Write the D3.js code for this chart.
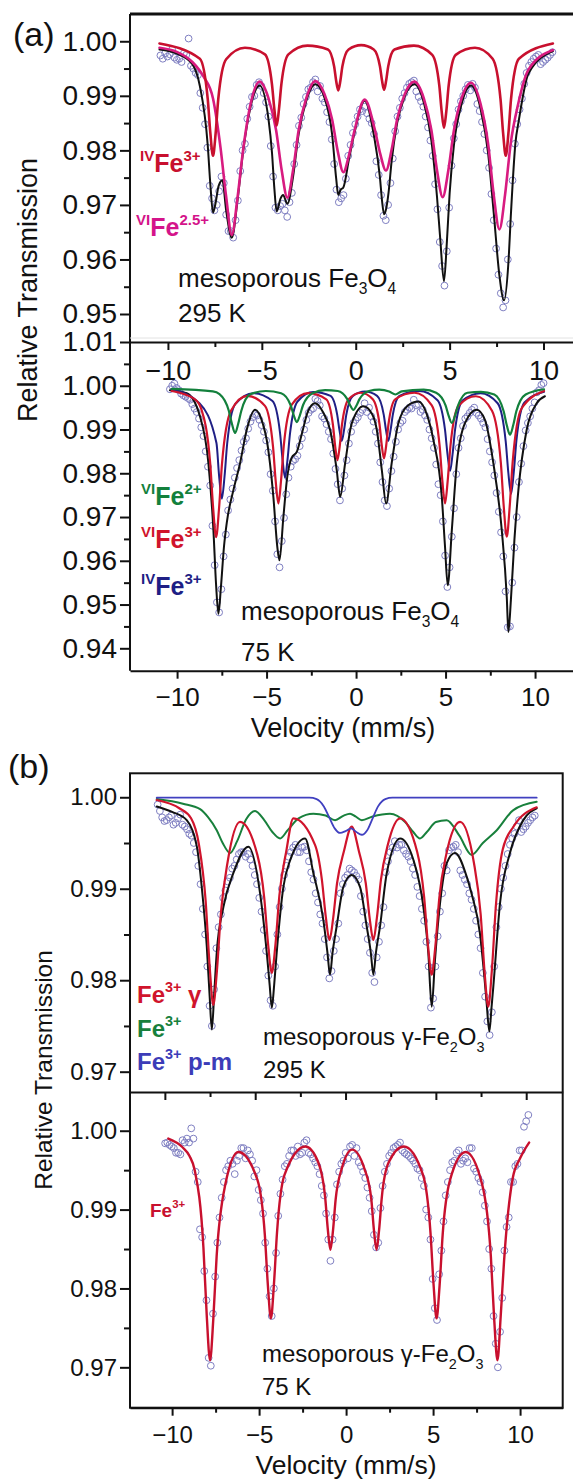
<!DOCTYPE html>
<html>
<head>
<meta charset="utf-8">
<script src="https://cdn.jsdelivr.net/npm/d3@7"></script>
<style>
body { margin: 0; background: #fff; }
svg { display: block; font-family: "Liberation Sans", Arial, Helvetica, sans-serif; }
.axis path, .axis line { stroke: #111; stroke-width: 2; }
.axis text { fill: #111; }
.fit { fill: none; stroke-linejoin: round; stroke-linecap: round; }
.pt { fill: none; stroke: #7f7fc2; stroke-width: 1; }
</style>
</head>
<body>
<div class="container"></div>
<script>
// velocity channels (mm/s) shared by the four spectra: even and odd channels
var velocity = [-10.4,-10.15,-9.9,-9.65,-9.4,-9.15,-8.9,-8.65,-8.4,-8.15,-7.9,-7.65,-7.4,-7.15,-6.9,-6.65,-6.4,-6.15,-5.9,-5.65,-5.4,-5.15,-4.9,-4.65,-4.4,-4.15,-3.9,-3.65,-3.4,-3.15,-2.9,-2.65,-2.4,-2.15,-1.9,-1.65,-1.4,-1.15,-0.9,-0.65,-0.4,-0.15,0.1,0.35,0.6,0.85,1.1,1.35,1.6,1.85,2.1,2.35,2.6,2.85,3.1,3.35,3.6,3.85,4.1,4.35,4.6,4.85,5.1,5.35,5.6,5.85,6.1,6.35,6.6,6.85,7.1,7.35,7.6,7.85,8.1,8.35,8.6,8.85,9.1,9.35,9.6,9.85,10.1,10.35];
var velocityOdd = [-10.275,-10.025,-9.775,-9.525,-9.275,-9.025,-8.775,-8.525,-8.275,-8.025,-7.775,-7.525,-7.275,-7.025,-6.775,-6.525,-6.275,-6.025,-5.775,-5.525,-5.275,-5.025,-4.775,-4.525,-4.275,-4.025,-3.775,-3.525,-3.275,-3.025,-2.775,-2.525,-2.275,-2.025,-1.775,-1.525,-1.275,-1.025,-0.775,-0.525,-0.275,-0.025,0.225,0.475,0.725,0.975,1.225,1.475,1.725,1.975,2.225,2.475,2.725,2.975,3.225,3.475,3.725,3.975,4.225,4.475,4.725,4.975,5.225,5.475,5.725,5.975,6.225,6.475,6.725,6.975,7.225,7.475,7.725,7.975,8.225,8.475,8.725,8.975,9.225,9.475,9.725,9.975,10.225,10.475];

// measured transmission, Fe3O4 295 K
var a1Counts = [0.9974,0.9978,0.9976,0.9970,0.9968,0.9978,1.0005,0.9950,0.9938,0.9878,
0.9805,0.9712,0.9700,0.9752,0.9682,0.9652,0.9672,0.9762,0.9812,0.9880,
0.9900,0.9925,0.9905,0.9862,0.9752,0.9690,0.9702,0.9678,0.9722,0.9810,
0.9860,0.9898,0.9915,0.9930,0.9918,0.9888,0.9852,0.9775,0.9705,0.9718,
0.9790,0.9832,0.9862,0.9872,0.9868,0.9850,0.9780,0.9718,0.9672,0.9740,
0.9835,0.9878,0.9905,0.9922,0.9928,0.9898,0.9880,0.9842,0.9790,0.9692,
0.9588,0.9615,0.9772,0.9848,0.9890,0.9912,0.9910,0.9915,0.9872,0.9830,
0.9768,0.9672,0.9572,0.9512,0.9600,0.9745,0.9848,0.9895,0.9942,0.9962,
0.9972,0.9958,0.9966,0.9975];
var a1CountsOdd = [0.9968,0.9972,0.9985,0.9966,0.9962,0.9975,0.9955,0.9942,0.9905,0.9848,
0.9735,0.9690,0.9725,0.9740,0.9652,0.9640,0.9708,0.9800,0.9858,0.9898,
0.9920,0.9918,0.9888,0.9808,0.9695,0.9698,0.9690,0.9705,0.9775,0.9845,
0.9885,0.9912,0.9925,0.9908,0.9895,0.9870,0.9820,0.9728,0.9712,0.9748,
0.9810,0.9848,0.9875,0.9880,0.9858,0.9830,0.9755,0.9680,0.9700,0.9785,
0.9862,0.9895,0.9915,0.9925,0.9908,0.9890,0.9862,0.9818,0.9738,0.9632,
0.9552,0.9695,0.9822,0.9875,0.9900,0.9920,0.9922,0.9885,0.9852,0.9800,
0.9720,0.9620,0.9538,0.9525,0.9665,0.9812,0.9875,0.9922,0.9955,0.9968,
0.9975,0.9962,0.9970,0.9980];

// measured transmission, Fe3O4 75 K
var a2Counts = [0.9992,1.0005,0.9990,0.9978,0.9972,0.9958,0.9940,0.9905,0.9850,0.9772,
0.9590,0.9482,0.9610,0.9715,0.9765,0.9812,0.9852,0.9880,0.9918,0.9935,
0.9922,0.9895,0.9848,0.9760,0.9615,0.9645,0.9752,0.9815,0.9832,0.9862,
0.9900,0.9938,0.9948,0.9965,0.9930,0.9912,0.9878,0.9810,0.9738,0.9795,
0.9868,0.9915,0.9928,0.9945,0.9940,0.9930,0.9895,0.9825,0.9738,0.9765,
0.9838,0.9900,0.9920,0.9945,0.9948,0.9955,0.9940,0.9932,0.9900,0.9858,
0.9775,0.9690,0.9540,0.9655,0.9798,0.9880,0.9925,0.9938,0.9950,0.9932,
0.9915,0.9878,0.9825,0.9755,0.9665,0.9530,0.9450,0.9630,0.9780,0.9862,
0.9915,0.9948,0.9985,1.0002];
var a2CountsOdd = [1.0000,0.9995,0.9982,0.9975,0.9968,0.9948,0.9925,0.9885,0.9815,0.9680,
0.9505,0.9535,0.9660,0.9740,0.9790,0.9830,0.9872,0.9902,0.9928,0.9932,
0.9910,0.9875,0.9798,0.9690,0.9585,0.9698,0.9790,0.9828,0.9840,0.9880,
0.9922,0.9945,0.9970,0.9955,0.9925,0.9895,0.9845,0.9775,0.9765,0.9830,
0.9895,0.9922,0.9938,0.9960,0.9950,0.9918,0.9868,0.9780,0.9725,0.9805,
0.9872,0.9915,0.9940,0.9950,0.9968,0.9958,0.9945,0.9922,0.9880,0.9820,
0.9750,0.9612,0.9585,0.9720,0.9858,0.9908,0.9930,0.9945,0.9938,0.9925,
0.9905,0.9850,0.9795,0.9712,0.9610,0.9448,0.9550,0.9700,0.9822,0.9898,
0.9930,0.9962,0.9990,1.0006];

// measured transmission, gamma-Fe2O3 295 K
var b1Counts = [0.9992,0.9978,0.9975,0.9980,0.9972,0.9981,0.9968,0.9960,0.9950,0.9925,
0.9878,0.9815,0.9750,0.9835,0.9872,0.9898,0.9912,0.9925,0.9938,0.9940,
0.9938,0.9925,0.9905,0.9875,0.9832,0.9778,0.9815,0.9880,0.9915,0.9935,
0.9945,0.9940,0.9945,0.9942,0.9918,0.9895,0.9872,0.9845,0.9802,0.9832,
0.9862,0.9905,0.9915,0.9920,0.9914,0.9892,0.9860,0.9830,0.9798,0.9842,
0.9880,0.9930,0.9945,0.9945,0.9948,0.9938,0.9930,0.9915,0.9892,0.9865,
0.9815,0.9780,0.9848,0.9895,0.9920,0.9945,0.9948,0.9920,0.9910,0.9895,
0.9878,0.9850,0.9808,0.9755,0.9765,0.9858,0.9900,0.9925,0.9948,0.9960,
0.9975,0.9965,0.9972,0.9978];
var b1CountsOdd = [0.9985,0.9974,0.9978,0.9970,0.9977,0.9970,0.9965,0.9958,0.9940,0.9905,
0.9850,0.9772,0.9790,0.9858,0.9890,0.9908,0.9922,0.9932,0.9940,0.9935,
0.9932,0.9915,0.9890,0.9855,0.9805,0.9772,0.9850,0.9900,0.9925,0.9940,
0.9948,0.9940,0.9946,0.9930,0.9910,0.9885,0.9862,0.9825,0.9810,0.9845,
0.9895,0.9912,0.9922,0.9918,0.9910,0.9875,0.9845,0.9808,0.9825,0.9860,
0.9918,0.9940,0.9952,0.9948,0.9942,0.9935,0.9922,0.9902,0.9878,0.9842,
0.9770,0.9815,0.9875,0.9925,0.9942,0.9946,0.9940,0.9915,0.9905,0.9888,
0.9865,0.9835,0.9782,0.9740,0.9815,0.9880,0.9912,0.9938,0.9955,0.9968,
0.9962,0.9968,0.9975,0.9980];

// measured transmission, gamma-Fe2O3 75 K
var b2Counts = [0.9984,0.9982,0.9978,0.9972,0.9988,0.9990,1.0003,0.9948,0.9875,0.9822,
0.9712,0.9768,0.9858,0.9915,0.9950,0.9962,0.9945,0.9968,0.9978,0.9975,
0.9962,0.9950,0.9912,0.9858,0.9790,0.9800,0.9892,0.9938,0.9958,0.9975,
0.9968,0.9970,0.9985,0.9972,0.9965,0.9955,0.9930,0.9895,0.9835,0.9890,
0.9948,0.9962,0.9965,0.9982,0.9978,0.9955,0.9940,0.9915,0.9868,0.9858,
0.9930,0.9958,0.9972,0.9980,0.9985,0.9972,0.9968,0.9962,0.9952,0.9940,
0.9900,0.9862,0.9775,0.9818,0.9885,0.9935,0.9960,0.9972,0.9958,0.9965,
0.9978,0.9952,0.9940,0.9922,0.9885,0.9825,0.9730,0.9745,0.9848,0.9890,
0.9935,0.9958,0.9975,1.0012];
var b2CountsOdd = [0.9985,0.9980,0.9972,0.9970,0.9985,0.9985,0.9990,0.9935,0.9865,0.9785,
0.9702,0.9815,0.9890,0.9935,0.9955,0.9958,0.9962,0.9978,0.9965,0.9970,
0.9942,0.9925,0.9895,0.9825,0.9765,0.9845,0.9920,0.9955,0.9968,0.9975,
0.9980,0.9972,0.9988,0.9970,0.9960,0.9945,0.9918,0.9862,0.9862,0.9932,
0.9958,0.9972,0.9980,0.9968,0.9960,0.9948,0.9928,0.9898,0.9852,0.9902,
0.9948,0.9968,0.9978,0.9982,0.9975,0.9970,0.9965,0.9958,0.9950,0.9930,
0.9890,0.9812,0.9760,0.9848,0.9918,0.9950,0.9962,0.9975,0.9962,0.9960,
0.9978,0.9948,0.9935,0.9905,0.9850,0.9765,0.9700,0.9788,0.9878,0.9935,
0.9955,0.9975,1.0005,1.0020];

// fitted curves [velocity, transmission]
var a1Total = [[-10.45,0.9985],[-9.5,0.9977],[-8.7,0.9958],[-8.3,0.9918],[-7.88,0.9809],[-7.74,0.9737],[-7.6,0.9686],[-7.46,0.9704],[-7.3,0.9735],[-7.1,0.9745],[-6.9,0.9690],[-6.6,0.9640],[-6.3,0.9707],[-6.0,0.9797],[-5.6,0.9880],[-5.12,0.9919],[-4.64,0.9856],[-4.46,0.9796],[-4.33,0.9729],[-4.21,0.9688],[-4.0,0.9712],[-3.87,0.9718],[-3.64,0.9702],[-3.34,0.9751],[-3.04,0.9830],[-2.64,0.9890],[-2.15,0.9921],[-1.66,0.9896],[-1.26,0.9830],[-1.04,0.9748],[-0.93,0.9718],[-0.8,0.9728],[-0.66,0.9732],[-0.36,0.9784],[-0.06,0.9833],[0.475,0.9891],[0.97,0.9827],[1.29,0.9750],[1.40,0.9708],[1.51,0.9683],[1.62,0.9693],[1.75,0.9723],[1.91,0.9780],[2.21,0.9851],[2.61,0.9899],[3.12,0.9921],[3.63,0.9887],[4.03,0.9818],[4.33,0.9714],[4.50,0.9638],[4.70,0.9560],[4.85,0.9630],[5.0,0.9721],[5.23,0.9810],[5.63,0.9884],[6.14,0.9919],[6.65,0.9876],[7.05,0.9795],[7.35,0.9685],[7.65,0.9571],[7.9,0.9525],[8.13,0.9594],[8.27,0.9687],[8.5,0.9812],[8.69,0.9856],[9.2,0.9941],[10.5,0.9982]];
var a1FeIV = [[-10.45,0.9996],[-8.3,0.9968],[-7.88,0.9894],[-7.74,0.9831],[-7.6,0.9790],[-7.46,0.9831],[-7.32,0.9894],[-6.9,0.9967],[-5.9,0.9988],[-4.835,0.9976],[-4.46,0.9921],[-4.335,0.9876],[-4.21,0.9845],[-4.085,0.9876],[-3.96,0.9921],[-3.585,0.9976],[-2.57,0.9992],[-1.48,0.9985],[-1.15,0.9954],[-1.04,0.9927],[-0.93,0.9910],[-0.82,0.9927],[-0.71,0.9954],[-0.38,0.9985],[0.29,0.9993],[0.96,0.9985],[1.29,0.9954],[1.40,0.9928],[1.51,0.9911],[1.62,0.9928],[1.73,0.9954],[2.06,0.9985],[3.1,0.9992],[4.075,0.9975],[4.45,0.9919],[4.575,0.9872],[4.70,0.9841],[4.825,0.9872],[4.95,0.9919],[5.325,0.9975],[6.35,0.9988],[7.29,0.9968],[7.71,0.9894],[7.85,0.9831],[7.99,0.9790],[8.13,0.9831],[8.27,0.9894],[8.69,0.9968],[10.5,0.9996]];
var a1FeVI = [[-10.45,0.9988],[-9.5,0.9980],[-8.7,0.9962],[-8.1,0.9935],[-7.6,0.9895],[-7.2,0.9805],[-6.9,0.9715],[-6.6,0.9645],[-6.3,0.9712],[-6.0,0.9800],[-5.6,0.9885],[-5.12,0.9926],[-4.64,0.9895],[-4.24,0.9837],[-3.94,0.9763],[-3.64,0.9713],[-3.34,0.9763],[-3.04,0.9837],[-2.64,0.9895],[-2.15,0.9927],[-1.66,0.9903],[-1.26,0.9857],[-0.96,0.9799],[-0.66,0.9760],[-0.36,0.9791],[-0.06,0.9837],[0.475,0.9893],[1.01,0.9839],[1.31,0.9793],[1.61,0.9763],[1.91,0.9801],[2.21,0.9858],[2.61,0.9903],[3.12,0.9926],[3.63,0.9895],[4.03,0.9837],[4.33,0.9763],[4.63,0.9714],[4.93,0.9763],[5.23,0.9837],[5.63,0.9895],[6.14,0.9924],[6.65,0.9885],[7.05,0.9812],[7.35,0.9718],[7.65,0.9655],[7.95,0.9718],[8.25,0.9812],[8.65,0.9885],[9.2,0.9948],[10.5,0.9984]];

var a2Total = [[-10.4,0.9990],[-9.46,0.9983],[-8.72,0.9930],[-8.25,0.9823],[-7.97,0.9670],[-7.82,0.9545],[-7.69,0.9479],[-7.55,0.9540],[-7.38,0.9632],[-7.22,0.9688],[-6.85,0.9762],[-6.48,0.9823],[-6.11,0.9899],[-5.64,0.9945],[-5.2,0.9912],[-4.99,0.9876],[-4.62,0.9746],[-4.40,0.9632],[-4.28,0.9601],[-4.06,0.9700],[-3.85,0.9790],[-3.6,0.9835],[-3.3,0.9850],[-3.0,0.9895],[-2.7,0.9940],[-2.29,0.9960],[-1.85,0.9940],[-1.45,0.9899],[-1.08,0.9807],[-0.89,0.9746],[-0.61,0.9823],[-0.24,0.9914],[0.41,0.9953],[0.9,0.9935],[1.16,0.9899],[1.44,0.9807],[1.68,0.9731],[1.99,0.9823],[2.36,0.9914],[2.9,0.9955],[3.48,0.9964],[3.95,0.9935],[4.32,0.9876],[4.79,0.9746],[4.97,0.9632],[5.12,0.9544],[5.35,0.9670],[5.63,0.9823],[6.09,0.9915],[6.74,0.9945],[7.2,0.9922],[7.67,0.9823],[8.14,0.9670],[8.42,0.9517],[8.51,0.9437],[8.65,0.9510],[8.85,0.9650],[9.07,0.9762],[9.53,0.9899],[10.09,0.9960],[10.55,0.9976]];
var a2Fe2 = [[-10.3,0.9993],[-8.0,0.9987],[-7.63,0.9981],[-7.11,0.9943],[-6.935,0.9913],[-6.76,0.9892],[-6.585,0.9913],[-6.41,0.9943],[-5.885,0.9981],[-5.035,0.9988],[-4.185,0.9983],[-3.66,0.9956],[-3.485,0.9933],[-3.31,0.9917],[-3.135,0.9933],[-2.96,0.9956],[-2.435,0.9983],[-1.73,0.9990],[-1.025,0.9988],[-0.5,0.9970],[-0.325,0.9955],[-0.15,0.9945],[0.025,0.9955],[0.2,0.9970],[0.725,0.9988],[1.3,0.9991],[1.85,0.9987],[2.2,0.9980],[2.55,0.9987],[3.775,0.9991],[4.475,0.9984],[5.0,0.9955],[5.175,0.9931],[5.35,0.9915],[5.525,0.9931],[5.7,0.9955],[6.225,0.9984],[6.975,0.9986],[7.725,0.9980],[8.25,0.9941],[8.425,0.9909],[8.6,0.9888],[8.775,0.9909],[8.95,0.9941],[9.475,0.9980],[10.5,0.9992]];
var a2Fe3VI = [[-10.3,0.9988],[-9.0,0.9969],[-8.65,0.9947],[-8.15,0.9823],[-7.985,0.9721],[-7.82,0.9654],[-7.655,0.9720],[-7.49,0.9822],[-6.99,0.9943],[-6.08,0.9977],[-5.09,0.9954],[-4.64,0.9861],[-4.49,0.9782],[-4.34,0.9731],[-4.19,0.9784],[-4.04,0.9862],[-3.59,0.9957],[-2.69,0.9983],[-1.665,0.9969],[-1.29,0.9910],[-1.165,0.9861],[-1.04,0.9830],[-0.915,0.9861],[-0.79,0.9910],[-0.415,0.9969],[0.26,0.9984],[0.935,0.9969],[1.31,0.9912],[1.435,0.9864],[1.56,0.9834],[1.685,0.9864],[1.81,0.9912],[2.185,0.9969],[3.265,0.9984],[4.22,0.9956],[4.67,0.9862],[4.82,0.9783],[4.97,0.9731],[5.12,0.9783],[5.27,0.9861],[5.72,0.9954],[6.695,0.9976],[7.595,0.9943],[8.09,0.9823],[8.255,0.9722],[8.42,0.9655],[8.585,0.9725],[8.75,0.9826],[9.245,0.9948],[10.5,0.9988]];
var a2Fe3IV = [[-10.3,0.9992],[-8.75,0.9960],[-7.8,0.9869],[-7.65,0.9793],[-7.5,0.9742],[-7.35,0.9792],[-7.2,0.9868],[-6.75,0.9958],[-5.735,0.9983],[-4.67,0.9965],[-4.25,0.9893],[-4.11,0.9833],[-3.97,0.9790],[-3.83,0.9831],[-3.69,0.9891],[-3.27,0.9964],[-2.385,0.9986],[-1.425,0.9977],[-1.05,0.9933],[-0.925,0.9898],[-0.8,0.9874],[-0.675,0.9898],[-0.55,0.9933],[-0.175,0.9977],[0.5,0.9987],[1.175,0.9977],[1.55,0.9933],[1.675,0.9898],[1.8,0.9874],[1.925,0.9898],[2.05,0.9933],[2.425,0.9977],[3.525,0.9988],[4.55,0.9967],[4.97,0.9899],[5.11,0.9843],[5.25,0.9805],[5.39,0.9843],[5.53,0.9899],[5.95,0.9966],[6.955,0.9983],[7.91,0.9960],[8.36,0.9873],[8.51,0.9800],[8.66,0.9753],[8.81,0.9802],[8.96,0.9875],[9.41,0.9962],[10.5,0.9986]];

var b1Total = [[-10.45,0.9990],[-9.6,0.9984],[-8.79,0.9975],[-8.23,0.9946],[-7.96,0.9902],[-7.68,0.9837],[-7.52,0.9782],[-7.40,0.9746],[-7.27,0.9785],[-7.13,0.9830],[-6.76,0.9880],[-6.21,0.9917],[-5.38,0.9946],[-4.73,0.9895],[-4.36,0.9830],[-4.2,0.9795],[-4.08,0.9770],[-3.95,0.9795],[-3.81,0.9830],[-3.44,0.9902],[-3.07,0.9931],[-2.24,0.9955],[-1.78,0.9917],[-1.23,0.9866],[-1.0,0.9830],[-0.86,0.9806],[-0.72,0.9830],[-0.49,0.9859],[-0.12,0.9902],[0.34,0.9915],[0.8,0.9902],[1.17,0.9859],[1.4,0.9830],[1.54,0.9806],[1.68,0.9830],[1.91,0.9859],[2.28,0.9917],[3.02,0.9955],[3.75,0.9932],[4.31,0.9880],[4.58,0.9830],[4.77,0.9771],[4.95,0.9822],[5.23,0.9884],[5.6,0.9928],[6.06,0.9939],[6.71,0.9913],[7.0,0.9893],[7.44,0.9851],[7.7,0.9800],[7.81,0.9775],[7.96,0.9744],[8.08,0.9770],[8.18,0.9793],[8.55,0.9884],[9.1,0.9939],[9.84,0.9975],[10.58,0.9988]];
var b1Gamma = [[-10.45,0.9997],[-9.2,0.9988],[-8.55,0.9977],[-8.12,0.9949],[-7.74,0.9886],[-7.52,0.9815],[-7.32,0.9773],[-7.12,0.9810],[-6.9,0.9873],[-6.52,0.9930],[-5.84,0.9973],[-4.88,0.9937],[-4.5,0.9890],[-4.28,0.9838],[-4.08,0.9808],[-3.88,0.9839],[-3.66,0.9893],[-3.28,0.9941],[-2.89,0.9977],[-1.69,0.9948],[-1.31,0.9910],[-1.09,0.9869],[-0.89,0.9844],[-0.69,0.9867],[-0.47,0.9906],[-0.09,0.9941],[0.34,0.9968],[0.74,0.9941],[1.12,0.9906],[1.34,0.9867],[1.54,0.9844],[1.74,0.9869],[1.96,0.9910],[2.34,0.9948],[3.02,0.9977],[3.97,0.9940],[4.35,0.9891],[4.57,0.9837],[4.77,0.9806],[4.97,0.9837],[5.19,0.9890],[5.57,0.9937],[6.34,0.9973],[7.10,0.9929],[7.48,0.9872],[7.70,0.9808],[7.90,0.9771],[8.10,0.9811],[8.32,0.9881],[8.70,0.9943],[9.3,0.9968],[10.58,0.9989]];
var b1Second = [[-10.45,0.9998],[-9.0,0.9993],[-8.05,0.9987],[-7.6,0.9978],[-7.13,0.9964],[-6.8,0.9950],[-6.39,0.9939],[-6.0,0.9952],[-5.5,0.9976],[-5.01,0.9985],[-4.5,0.9975],[-4.05,0.9962],[-3.62,0.9955],[-3.2,0.9964],[-2.6,0.9977],[-1.78,0.9982],[-1.1,0.9980],[-0.58,0.9975],[-0.1,0.9980],[0.25,0.9982],[0.55,0.9979],[0.9,0.9975],[1.5,0.9979],[2.46,0.9982],[3.3,0.9973],[3.75,0.9962],[4.12,0.9955],[4.5,0.9962],[5.0,0.9973],[5.6,0.9975],[6.3,0.9958],[6.98,0.9937],[7.6,0.9950],[8.37,0.9964],[9.29,0.9986],[10.58,0.9995]];
var b1PM = [[-10.45,0.99995],[-2.0,0.99995],[-1.6,0.9998],[-1.2,0.9990],[-0.9,0.9978],[-0.6,0.9966],[-0.3,0.9961],[0.0,0.9963],[0.3,0.9966],[0.6,0.9962],[0.9,0.9959],[1.2,0.9964],[1.5,0.9977],[1.8,0.9990],[2.2,0.9998],[2.6,0.99995],[10.58,0.99995]];

var b2Fit = [[-10.22,0.9990],[-9.4,0.9979],[-9.0,0.9968],[-8.7,0.9950],[-8.2,0.9852],[-8.01,0.9766],[-7.82,0.9709],[-7.63,0.9762],[-7.44,0.9841],[-6.94,0.9932],[-6.19,0.9973],[-5.1,0.9938],[-4.67,0.9868],[-4.495,0.9804],[-4.32,0.9762],[-4.145,0.9806],[-3.97,0.9871],[-3.54,0.9944],[-2.34,0.9980],[-1.6,0.9960],[-1.2,0.9915],[-1.05,0.9875],[-0.9,0.9849],[-0.75,0.9874],[-0.6,0.9913],[-0.25,0.9952],[0.35,0.9976],[1.05,0.9952],[1.45,0.9913],[1.6,0.9874],[1.75,0.9849],[1.9,0.9875],[2.05,0.9915],[2.45,0.9960],[3.32,0.9980],[4.42,0.9944],[4.85,0.9871],[5.025,0.9806],[5.20,0.9762],[5.375,0.9804],[5.55,0.9868],[5.98,0.9938],[6.87,0.9973],[7.82,0.9932],[8.32,0.9841],[8.51,0.9762],[8.70,0.9709],[8.89,0.9766],[9.08,0.9835],[9.58,0.9940],[10.0,0.9965],[10.52,0.9985]];

// tick values
var velTicks = [-10, -5, 0, 5, 10];
var velMinor = [-7.5, -2.5, 2.5, 7.5];
var a1YTicks = [0.95, 0.96, 0.97, 0.98, 0.99, 1.00];
var a1YMinor = [0.955, 0.965, 0.975, 0.985, 0.995];
var a2YTicks = [0.94, 0.95, 0.96, 0.97, 0.98, 0.99, 1.00, 1.01];
var a2YMinor = [0.945, 0.955, 0.965, 0.975, 0.985, 0.995, 1.005];
var bYTicks = [0.97, 0.98, 0.99, 1.00];
var bYMinor = [0.975, 0.985, 0.995];

const FONT = '"Liberation Sans", Arial, Helvetica, sans-serif';
const LEFT = 130;
const A_RIGHT = 573, B_RIGHT = 562.7;

var svg = d3.select('.container').append('svg')
    .attr('width', 573)
    .attr('height', 1480);

var a1X = d3.scaleLinear().domain([-12.02, 11.57]).range([LEFT, A_RIGHT]);
var a1Y = d3.scaleLinear().domain([0.9456, 1.0050]).range([338, 14]);
var a2X = d3.scaleLinear().domain([-12.63, 12.12]).range([LEFT, A_RIGHT]);
var a2Y = d3.scaleLinear().domain([0.93488, 1.01]).range([670.7, 342]);
var b1X = d3.scaleLinear().domain([-11.93, 12.02]).range([LEFT, B_RIGHT]);
var b1Y = d3.scaleLinear().domain([0.96778, 1.00262]).range([1092, 773.3]);
var b2X = d3.scaleLinear().domain([-12.42, 12.45]).range([LEFT, B_RIGHT]);
var b2Y = d3.scaleLinear().domain([0.96488, 1.00491]).range([1407.7, 1092]);

var drawPoints = function(xS, yS, vel, ys){
    svg.append('g').selectAll('circle').data(ys)
        .enter().append('circle')
        .attr('class', 'pt')
        .attr('cx', function(d, i){ return xS(vel[i]); })
        .attr('cy', function(d){ return yS(d); })
        .attr('r', 3.4);
};

var drawCurve = function(xS, yS, pts, color, w){
    var line = d3.line()
        .x(function(d){ return xS(d[0]); })
        .y(function(d){ return yS(d[1]); })
        .curve(d3.curveMonotoneX);
    svg.append('path')
        .attr('class', 'fit')
        .attr('d', line(pts))
        .attr('stroke', color)
        .attr('stroke-width', w);
};

var yAxis = function(yS, major, minor, fs){
    var g = svg.append('g').attr('class', 'axis')
        .attr('transform', 'translate(' + LEFT + ',0)')
        .call(d3.axisLeft(yS).tickValues(major).tickFormat(d3.format('.2f'))
            .tickSize(10).tickSizeOuter(0).tickPadding(3))
        .attr('font-family', FONT).attr('font-size', fs);
    g.select('.domain').remove();
    var m = svg.append('g').attr('class', 'axis')
        .attr('transform', 'translate(' + LEFT + ',0)')
        .call(d3.axisLeft(yS).tickValues(minor).tickFormat('').tickSize(6).tickSizeOuter(0));
    m.select('.domain').remove();
};

var xAxis = function(xS, y, fs, labels, pad){
    svg.append('g').attr('class', 'axis')
        .attr('transform', 'translate(0,' + y + ')')
        .call(d3.axisBottom(xS).tickValues(velTicks)
            .tickFormat(labels ? d3.format('d') : '')
            .tickSize(8).tickSizeOuter(0).tickPadding(pad))
        .attr('font-family', FONT).attr('font-size', fs);
    var m = svg.append('g').attr('class', 'axis')
        .attr('transform', 'translate(0,' + y + ')')
        .call(d3.axisBottom(xS).tickValues(velMinor).tickFormat('').tickSize(5).tickSizeOuter(0));
    m.select('.domain').remove();
};

var richText = function(x, y, parts, color, size, weight){
    var t = svg.append('text')
        .attr('x', x).attr('y', y)
        .attr('fill', color)
        .attr('font-size', size)
        .attr('font-weight', weight || 'normal');
    var prev = 0;
    parts.forEach(function(p){
        var shift = p[1] === 'sup' ? -0.45 * size : (p[1] === 'sub' ? 0.28 * size : 0);
        t.append('tspan')
            .attr('dy', shift - prev)
            .attr('font-size', p[1] === 'base' ? size : size * 0.6)
            .text(p[0]);
        prev = shift;
    });
};

// ---------- panel (a) ----------
drawPoints(a1X, a1Y, velocity, a1Counts);
drawPoints(a1X, a1Y, velocityOdd, a1CountsOdd);
drawCurve(a1X, a1Y, a1Total, '#111', 2);
drawCurve(a1X, a1Y, a1FeVI, '#d81b80', 2.6);
drawCurve(a1X, a1Y, a1FeIV, '#c8102e', 2.6);

drawPoints(a2X, a2Y, velocity, a2Counts);
drawPoints(a2X, a2Y, velocityOdd, a2CountsOdd);
drawCurve(a2X, a2Y, a2Total, '#111', 2);
drawCurve(a2X, a2Y, a2Fe3IV, '#1f1f85', 2);
drawCurve(a2X, a2Y, a2Fe3VI, '#d0142c', 2.2);
drawCurve(a2X, a2Y, a2Fe2, '#13803c', 2.2);

yAxis(a1Y, a1YTicks, a1YMinor, 28);
yAxis(a2Y, a2YTicks, a2YMinor, 28);
xAxis(a1X, a2Y.range()[1], 27, true, 11);
xAxis(a2X, a2Y.range()[0], 26, true, 9);

svg.append('line')
    .attr('x1', LEFT).attr('x2', LEFT)
    .attr('y1', a1Y.range()[1]).attr('y2', a2Y.range()[0])
    .attr('stroke', '#111').attr('stroke-width', 2);
svg.append('line')
    .attr('x1', LEFT).attr('x2', A_RIGHT)
    .attr('y1', a1Y.range()[1]).attr('y2', a1Y.range()[1])
    .attr('stroke', '#111').attr('stroke-width', 3);
svg.append('line')
    .attr('x1', LEFT).attr('x2', A_RIGHT)
    .attr('y1', a1Y.range()[0]).attr('y2', a1Y.range()[0])
    .attr('stroke', '#e2e2e2').attr('stroke-width', 1);

// ---------- panel (b) ----------
drawPoints(b1X, b1Y, velocity, b1Counts);
drawPoints(b1X, b1Y, velocityOdd, b1CountsOdd);
drawCurve(b1X, b1Y, b1Total, '#111', 2);
drawCurve(b1X, b1Y, b1Second, '#18803c', 2);
drawCurve(b1X, b1Y, b1Gamma, '#d0142c', 2.2);
drawCurve(b1X, b1Y, b1PM, '#4040c0', 1.8);

drawPoints(b2X, b2Y, velocity, b2Counts);
drawPoints(b2X, b2Y, velocityOdd, b2CountsOdd);
drawCurve(b2X, b2Y, b2Fit, '#c8102e', 2.4);

yAxis(b1Y, bYTicks, bYMinor, 24);
yAxis(b2Y, bYTicks, bYMinor, 24);
xAxis(b1X, b1Y.range()[0], 24, false, 4);
xAxis(b2X, b2Y.range()[0], 24, true, 10);

svg.append('rect')
    .attr('x', LEFT).attr('y', b1Y.range()[1])
    .attr('width', B_RIGHT - LEFT).attr('height', b2Y.range()[0] - b1Y.range()[1])
    .attr('fill', 'none').attr('stroke', '#111').attr('stroke-width', 2);

// ---------- text ----------
var txt = function(x, y, s, size, anchor, rot){
    var t = svg.append('text').attr('fill', '#111').attr('font-size', size)
        .attr('text-anchor', anchor || 'start').text(s);
    if (rot) t.attr('transform', 'translate(' + x + ',' + y + ') rotate(-90)');
    else t.attr('x', x).attr('y', y);
    return t;
};

txt(13, 46, '(a)', 34);
txt(8, 778, '(b)', 34);
txt(37, 290, 'Relative Transmission', 27, 'middle', true);
txt(52, 1070, 'Relative Transmission', 24.5, 'middle', true);
txt(343, 737, 'Velocity (mm/s)', 27, 'middle');
txt(346, 1474, 'Velocity (mm/s)', 26.5, 'middle');

richText(178, 287, [['mesoporous Fe', 'base'], ['3', 'sub'], ['O', 'base'], ['4', 'sub']], '#111', 26);
txt(178, 322, '295 K', 26);
richText(241, 620, [['mesoporous Fe', 'base'], ['3', 'sub'], ['O', 'base'], ['4', 'sub']], '#111', 26);
txt(241, 661, '75 K', 26);
richText(263, 1045, [['mesoporous \u03b3-Fe', 'base'], ['2', 'sub'], ['O', 'base'], ['3', 'sub']], '#111', 24);
txt(263, 1078, '295 K', 24);
richText(262, 1362, [['mesoporous \u03b3-Fe', 'base'], ['2', 'sub'], ['O', 'base'], ['3', 'sub']], '#111', 24);
txt(262, 1395, '75 K', 24);

richText(140, 172, [['IV', 'sup'], ['Fe', 'base'], ['3+', 'sup']], '#c8102e', 25, 'bold');
richText(136, 236, [['VI', 'sup'], ['Fe', 'base'], ['2.5+', 'sup']], '#d4148a', 25, 'bold');
richText(141, 505, [['VI', 'sup'], ['Fe', 'base'], ['2+', 'sup']], '#13803c', 25, 'bold');
richText(141, 548, [['VI', 'sup'], ['Fe', 'base'], ['3+', 'sup']], '#d0142c', 25, 'bold');
richText(141, 595, [['IV', 'sup'], ['Fe', 'base'], ['3+', 'sup']], '#1f1f85', 25, 'bold');

richText(137, 1003, [['Fe', 'base'], ['3+', 'sup'], [' \u03b3', 'base']], '#d0142c', 24, 'bold');
richText(137, 1037, [['Fe', 'base'], ['3+', 'sup']], '#18803c', 24, 'bold');
richText(137, 1070, [['Fe', 'base'], ['3+', 'sup'], [' p-m', 'base']], '#3c3cb8', 24, 'bold');
richText(150, 1217, [['Fe', 'base'], ['3+', 'sup']], '#c8102e', 19, 'bold');
</script>
</body>
</html>
